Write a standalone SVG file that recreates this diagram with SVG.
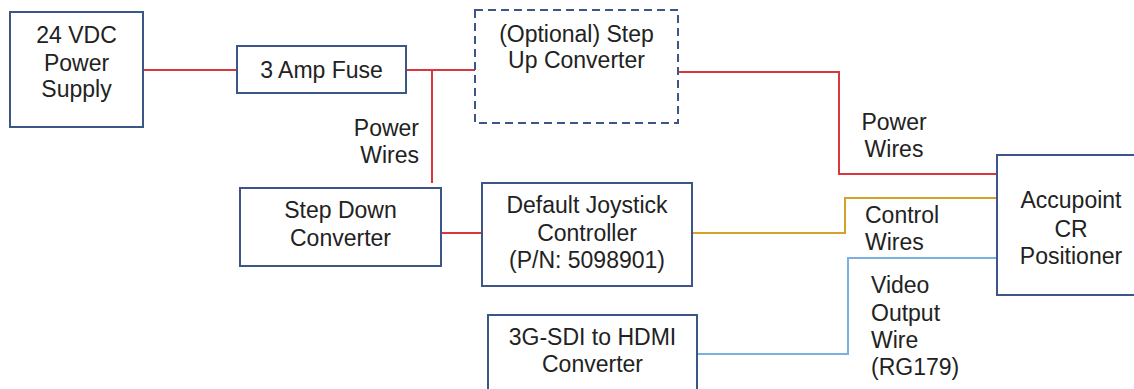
<svg xmlns="http://www.w3.org/2000/svg" width="1134" height="389" viewBox="0 0 1134 389">
<style>
.box{fill:#fff;stroke:#3b5687;stroke-width:2}
.dash{fill:#fff;stroke:#3b5687;stroke-width:2;stroke-dasharray:8 5}
text{font-family:"Liberation Sans",Arial,sans-serif;font-size:23px;fill:#222;text-anchor:middle}
.l{text-anchor:start}
.r{text-anchor:end}
.w{fill:none;stroke-width:2}
.red{stroke:#d9363e}
.gold{stroke:#d4a22a}
.blue{stroke:#7ab0e2}
</style>
<rect width="1134" height="389" fill="#fff"/>
<g id="connectors">
<polyline class="w red" points="143,70 237,70"/>
<polyline class="w red" points="406,70 475,70"/>
<polyline class="w red" points="432,70 432,183"/>
<polyline class="w red" points="441,233 482,233"/>
<polyline class="w red" points="678,72 839,72 839,174 997,174"/>
<polyline class="w gold" points="692,233 845,233 845,198 997,198"/>
<polyline class="w blue" points="698,354 848,354 848,258 997,258"/>
<text class="r" x="419" y="136">Power</text>
<text class="r" x="419" y="163">Wires</text>
<text x="894" y="130">Power</text>
<text x="894" y="157">Wires</text>
<text class="l" x="865" y="223">Control</text>
<text class="l" x="865" y="250">Wires</text>
<text class="l" x="871" y="293">Video</text>
<text class="l" x="871" y="321">Output</text>
<text class="l" x="871" y="348">Wire</text>
<text class="l" x="871" y="375">(RG179)</text>
</g>
<g id="power-supply">
<rect class="box" x="10" y="12" width="133" height="115"/>
<text x="76.5" y="43">24 VDC</text>
<text x="76.5" y="71">Power</text>
<text x="76.5" y="97">Supply</text>
</g>
<g id="fuse">
<rect class="box" x="237" y="46" width="169" height="47"/>
<text x="321.5" y="78">3 Amp Fuse</text>
</g>
<g id="step-up">
<rect class="dash" x="475" y="10" width="203" height="113"/>
<text x="576.5" y="42">(Optional) Step</text>
<text x="576.5" y="68">Up Converter</text>
</g>
<g id="step-down">
<rect class="box" x="240" y="188" width="201" height="78"/>
<text x="340.5" y="218">Step Down</text>
<text x="340.5" y="246">Converter</text>
</g>
<g id="joystick">
<rect class="box" x="482" y="183" width="210" height="103"/>
<text x="587" y="213">Default Joystick</text>
<text x="587" y="241">Controller</text>
<text x="587" y="268">(P/N: 5098901)</text>
</g>
<g id="hdmi">
<rect class="box" x="488" y="315" width="209" height="85"/>
<text x="592.5" y="345">3G-SDI to HDMI</text>
<text x="592.5" y="372">Converter</text>
</g>
<g id="positioner">
<rect class="box" x="997" y="155" width="150" height="140"/>
<text x="1071" y="208">Accupoint</text>
<text x="1071" y="237">CR</text>
<text x="1071" y="264">Positioner</text>
</g>
</svg>
